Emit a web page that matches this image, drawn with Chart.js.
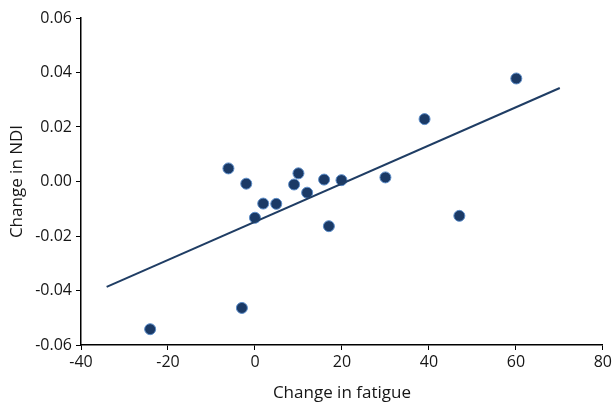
<!DOCTYPE html>
<html>
<head>
<meta charset="utf-8">
<script src="https://cdn.jsdelivr.net/npm/chart.js@4"></script>
<style>
  html, body { margin: 0; padding: 0; background: #fff; }
  #wrap { width: 615px; height: 406px; }
</style>
</head>
<body>
<div id="wrap"><canvas id="scatterChart" width="615" height="406"></canvas></div>
<script>
// values
const fatigue = [-24.1, -6.1, -2.0, -3.0, 0.0, 1.9, 4.9, 9.0, 10.0, 12.0, 15.9, 19.9, 17.0, 30.0, 39.0, 47.0, 60.1];
const ndi = [-0.0542, 0.0048, -0.0008, -0.0464, -0.0133, -0.0081, -0.0082, -0.0011, 0.0030, -0.0041, 0.0007, 0.0005, -0.0164, 0.0015, 0.0229, -0.0126, 0.0378];
const trendX = [-34.1, 70.1];
const trendY = [-0.0387, 0.0343];
const xTicks = [-40, -20, 0, 20, 40, 60, 80];
const yTicks = [-0.06, -0.04, -0.02, 0.00, 0.02, 0.04, 0.06];

const tickFont = { family: '"Open Sans", sans-serif', size: 16 };
const titleFont = { family: '"Open Sans", sans-serif', size: 17 };
const ink = '#161616';

const ctx = document.getElementById('scatterChart').getContext('2d');
new Chart(ctx, {
  type: 'scatter',
  data: {
    datasets: [{
      label: 'fit',
      type: 'line',
      data: trendX.map((x, i) => ({ x: x, y: trendY[i] })),
      borderColor: '#1f3d64',
      borderWidth: 2,
      pointRadius: 0,
      fill: false
    }, {
      label: 'subjects',
      data: fatigue.map((x, i) => ({ x: x, y: ndi[i] })),
      backgroundColor: '#1b3a66',
      borderColor: '#5b8cc8',
      borderWidth: 1,
      pointRadius: 5.5
    }]
  },
  options: {
    responsive: false,
    animation: false,
    layout: { padding: { left: 0, top: 18, right: 12, bottom: 0 } },
    plugins: { legend: { display: false }, tooltip: { enabled: false } },
    scales: {
      x: {
        type: 'linear',
        min: -40, max: 80,
        afterBuildTicks: s => { s.ticks = xTicks.map(v => ({ value: v })); },
        afterFit: s => { s.height = 61; },
        grid: { drawOnChartArea: false, drawTicks: true, tickLength: 5, color: '#000' },
        border: { display: true, color: '#000', width: 1.5 },
        ticks: { color: ink, font: tickFont, padding: 3, maxRotation: 0 },
        title: { display: true, text: 'Change in fatigue', color: ink, font: titleFont, padding: { top: 0, bottom: 3 } }
      },
      y: {
        type: 'linear',
        min: -0.06, max: 0.06,
        afterBuildTicks: s => { s.ticks = yTicks.map(v => ({ value: v })); },
        afterFit: s => { s.width = 81; },
        grid: { drawOnChartArea: false, drawTicks: true, tickLength: 5, color: '#000' },
        border: { display: true, color: '#000', width: 1.5 },
        ticks: {
          color: ink, font: tickFont, padding: 4,
          callback: v => (Math.abs(v) < 1e-9 ? 0 : v).toFixed(2)
        },
        title: { display: true, text: 'Change in NDI', color: ink, font: titleFont, padding: { top: 7, bottom: 0 } }
      }
    }
  }
});
</script>
</body>
</html>
